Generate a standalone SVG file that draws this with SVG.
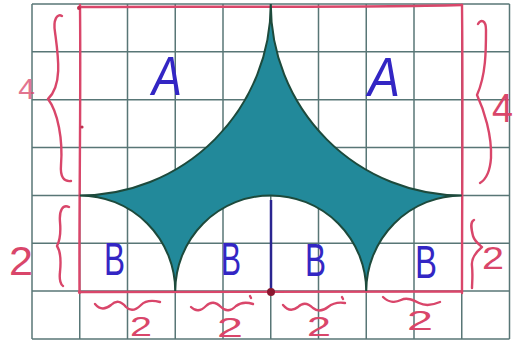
<svg xmlns="http://www.w3.org/2000/svg" width="515" height="344" viewBox="0 0 515 344">
<style>
.grid line{stroke:#587676;stroke-width:1.5}
.red{fill:none;stroke:#d9466a;stroke-width:2.4;stroke-linecap:round;stroke-linejoin:round}
.rtxt{font-family:"Liberation Sans",Arial,sans-serif;fill:#d9466a}
.btxt{font-family:"Liberation Sans",Arial,sans-serif;fill:#3326c4}
</style>
<rect width="515" height="344" fill="#ffffff"/>
<g id="grid" class="grid">
<line x1="32" y1="4" x2="32" y2="339"/>
<line x1="79.75" y1="4" x2="79.75" y2="339"/>
<line x1="127.5" y1="4" x2="127.5" y2="339"/>
<line x1="175.25" y1="4" x2="175.25" y2="339"/>
<line x1="223" y1="4" x2="223" y2="339"/>
<line x1="270.75" y1="4" x2="270.75" y2="339"/>
<line x1="318.5" y1="4" x2="318.5" y2="339"/>
<line x1="366.25" y1="4" x2="366.25" y2="339"/>
<line x1="414" y1="4" x2="414" y2="339"/>
<line x1="461.75" y1="4" x2="461.75" y2="339"/>
<line x1="509.5" y1="4" x2="509.5" y2="339"/>
<line x1="32" y1="4" x2="509.5" y2="4"/>
<line x1="32" y1="51.85" x2="509.5" y2="51.85"/>
<line x1="32" y1="99.7" x2="509.5" y2="99.7"/>
<line x1="32" y1="147.55" x2="509.5" y2="147.55"/>
<line x1="32" y1="195.4" x2="509.5" y2="195.4"/>
<line x1="32" y1="243.25" x2="509.5" y2="243.25"/>
<line x1="32" y1="291.1" x2="509.5" y2="291.1"/>
<line x1="32" y1="339" x2="509.5" y2="339"/>
</g>
<g id="frame">
<path class="red" d="M79,7 C200,6 350,8 462,5"/>
<path class="red" d="M80,5 C81,100 79,200 79.5,293"/>
<path class="red" d="M462,5 C463,100 462,200 462,293"/>
<path class="red" d="M79,292 C200,291.5 350,292.5 462,291.5"/>
<circle cx="82" cy="127" r="1.6" fill="#c0304f"/>
<circle cx="79" cy="8" r="2" fill="#c0304f"/>
</g>
<g id="shape">
<path d="M79.75,195.4 A191,191.4 0 0 0 270.75,4 A191,191.4 0 0 0 461.75,195.4 A95.5,95.7 0 0 0 366.25,291.1 A95.5,95.7 0 0 0 175.25,291.1 A95.5,95.7 0 0 0 79.75,195.4 Z" fill="#22899a" stroke="#1d4a3c" stroke-width="2"/>
</g>
<g id="height-line">
<line x1="271" y1="200" x2="271" y2="291" stroke="#2a2590" stroke-width="2.5"/>
<circle cx="271" cy="292" r="4" fill="#8a1830"/>
</g>
<g id="braces">
<path class="red" d="M62,16 C57,13 53,20 55,32 C58,55 63,85 48,99 C58,112 63,140 61,165 C60,177 64,182 71,181"/>
<path class="red" d="M69,207 C63,204 59,210 60,222 C61,233 60,240 57,246 C61,252 61,262 60,272 C59,280 61,285 63,286"/>
<path class="red" d="M478,24 C481,19 486,20 486,30 C486,50 486,75 477,95 C484,110 492,135 491,158 C490,172 485,180 480,183"/>
<path class="red" d="M474,220 C470,222 471,228 473,236 C475,242 480,245 482,247 C476,252 471,258 472,266 C473,276 472,283 472,288"/>
</g>
<g id="waves">
<path class="red" d="M95,304 C100,310 106,309 111,305 C116,300 121,301 126,307 C131,312 136,310 141,305 C146,300 152,300 160,302"/>
<path class="red" d="M191,307 C196,312 201,311 206,306 C211,301 216,302 221,307 C226,312 231,311 236,306 C241,302 247,302 253,304"/>
<path class="red" d="M283,305 C288,311 293,311 298,307 C303,302 308,303 313,308 C318,312 323,311 328,307 C333,303 339,302 345,303"/>
<path class="red" d="M383,297 C388,302 395,303 401,300 C407,297 413,300 419,303 C425,306 433,305 440,302"/>
<path class="red" d="M250,296 L251,298"/>
<path class="red" d="M342,297 L343,299"/>
</g>
<g id="labels-A">
<text class="btxt" x="152" y="95" font-size="56" textLength="30" lengthAdjust="spacingAndGlyphs" font-style="italic">A</text>
<text class="btxt" x="368" y="96" font-size="56" textLength="32" lengthAdjust="spacingAndGlyphs" font-style="italic">A</text>
</g>
<g id="labels-B">
<text class="btxt" x="104" y="275" font-size="46" textLength="21" lengthAdjust="spacingAndGlyphs">B</text>
<text class="btxt" x="221" y="275" font-size="46" textLength="20" lengthAdjust="spacingAndGlyphs">B</text>
<text class="btxt" x="305" y="276" font-size="46" textLength="21" lengthAdjust="spacingAndGlyphs">B</text>
<text class="btxt" x="415" y="278" font-size="46" textLength="22" lengthAdjust="spacingAndGlyphs">B</text>
</g>
<g id="labels-dim">
<text class="rtxt" x="35" y="99" font-size="30" text-anchor="end" opacity="0.75">4</text>
<text class="rtxt" x="492" y="122" font-size="40" textLength="21" lengthAdjust="spacingAndGlyphs">4</text>
<text class="rtxt" x="9" y="275" font-size="40" textLength="24" lengthAdjust="spacingAndGlyphs">2</text>
<text class="rtxt" x="482" y="269" font-size="32" textLength="22" lengthAdjust="spacingAndGlyphs">2</text>
<text class="rtxt" x="130" y="336" font-size="28" textLength="22" lengthAdjust="spacingAndGlyphs">2</text>
<text class="rtxt" x="217" y="337" font-size="28" textLength="26" lengthAdjust="spacingAndGlyphs">2</text>
<text class="rtxt" x="307" y="336" font-size="28" textLength="24" lengthAdjust="spacingAndGlyphs">2</text>
<text class="rtxt" x="407" y="330" font-size="28" textLength="26" lengthAdjust="spacingAndGlyphs">2</text>
</g>
</svg>
